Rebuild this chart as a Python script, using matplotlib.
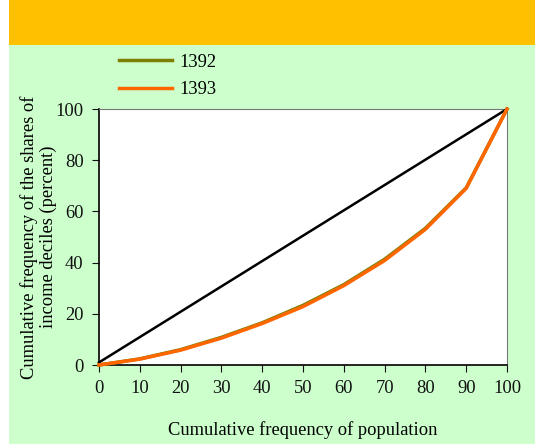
import matplotlib.pyplot as plt
from matplotlib.patches import Rectangle

plt.rcParams['font.family'] = ['Liberation Serif', 'DejaVu Serif']

population = [0, 10, 20, 30, 40, 50, 60, 70, 80, 90, 100]
share_1392 = [0, 2.4, 6.0, 10.8, 16.5, 23.3, 31.4, 41.3, 53.4, 69.2, 100]
share_1393 = [0, 2.3, 5.8, 10.5, 16.2, 22.8, 31.0, 40.8, 53.0, 69.0, 100]
equality = [1, 10.9, 20.8, 30.7, 40.6, 50.5, 60.4, 70.3, 80.2, 90.1, 100]

W, H = 535, 444
fig = plt.figure(figsize=(W / 100, H / 100), dpi=100, facecolor='white')

# background bands
fig.patches.append(Rectangle((9 / W, 1 - 45 / H), 1, 45 / H, transform=fig.transFigure,
                             facecolor='#FFC000', edgecolor='none', zorder=-10))
fig.patches.append(Rectangle((9 / W, 0), 1, 1 - 45 / H, transform=fig.transFigure,
                             facecolor='#CCFFCC', edgecolor='none', zorder=-10))

left, right, top, bottom = 99, 507, 109, 365
ax = fig.add_axes([left / W, 1 - bottom / H, (right - left) / W, (bottom - top) / H])
ax.set_facecolor('white')

ax.plot(population, equality, color='black', lw=1.8, clip_on=False, zorder=3)
ax.plot(population, share_1392, color='#808000', lw=2.5, label='1392', clip_on=False, zorder=4)
ax.plot(population, share_1393, color='#FF6600', lw=2.5, label='1393', clip_on=False, zorder=5)

ax.set_xlim(0, 100)
ax.set_ylim(0, 100)
ax.set_xticks(range(0, 101, 10))
ax.set_yticks(range(0, 101, 20))
ax.tick_params(direction='out', length=5, labelsize=13.3, colors='#111111', pad=6)
for s in ['top', 'right']:
    ax.spines[s].set_color('#777777')
for s in ['left', 'bottom']:
    ax.spines[s].set_color('black')
    ax.spines[s].set_linewidth(1.2)

ax.set_xlabel('Cumulative frequency of population', fontsize=13.3, labelpad=17)
ax.set_ylabel('Cumulative frequency of the shares of\nincome deciles (percent)', fontsize=13.3,
              labelpad=-1, linespacing=1.15)

ax.legend(loc='upper left', bbox_to_anchor=(0.008, 1.28), frameon=False, fontsize=13.3,
          handlelength=2.9, handletextpad=0.35, labelspacing=0.55)

fig.savefig('out.png', dpi=100, facecolor=fig.get_facecolor())
